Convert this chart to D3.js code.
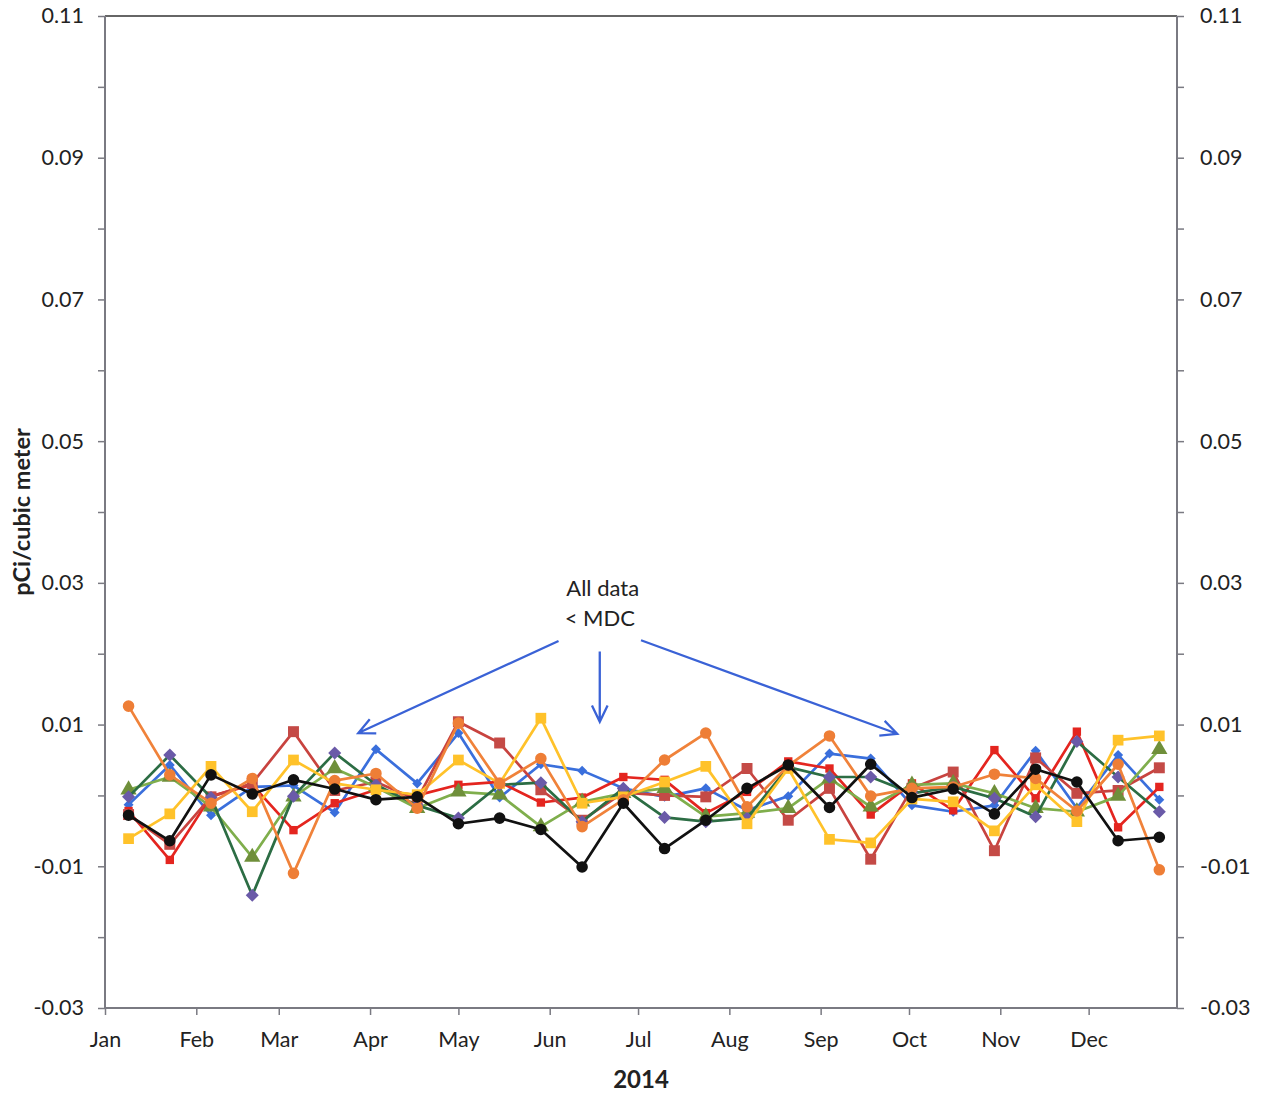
<!DOCTYPE html>
<html>
<head>
<meta charset="utf-8">
<script src="https://cdn.jsdelivr.net/npm/d3@7"></script>
<style>
  body { margin: 0; background: #fff; }
  svg text { font-family: Lato, "Open Sans", sans-serif; fill: #222; }
</style>
</head>
<body>
<script>
// biweekly sample dates, 2014
var sampleDates = ["2014-01-09","2014-01-23","2014-02-06","2014-02-20","2014-03-06","2014-03-20",
  "2014-04-03","2014-04-17","2014-05-01","2014-05-15","2014-05-29","2014-06-12","2014-06-26",
  "2014-07-10","2014-07-24","2014-08-07","2014-08-21","2014-09-04","2014-09-18","2014-10-02",
  "2014-10-16","2014-10-30","2014-11-13","2014-11-27","2014-12-11","2014-12-25"];

// one array per station (pCi/cubic meter)
var blueVals = [-0.0013,0.0043,-0.0028,0.0012,0.0014,-0.0024,0.0065,0.0017,0.0088,-0.0003,0.0044,0.0035,0.0010,
  -0.0002,0.0010,-0.0021,-0.0001,0.0059,0.0052,-0.0014,-0.0023,-0.0014,0.0063,-0.0018,0.0057,-0.0006];
var redVals = [-0.0022,-0.0091,-0.0001,0.0015,-0.0049,-0.0011,0.0008,0.0000,0.0015,0.0019,-0.0010,-0.0003,0.0026,
  0.0022,-0.0025,0.0005,0.0048,0.0038,-0.0027,0.0017,-0.0021,0.0064,-0.0004,0.0090,-0.0045,0.0012];
var darkRedVals = [-0.0027,-0.0069,-0.0002,0.0017,0.0090,0.0007,0.0019,-0.0006,0.0104,0.0074,0.0008,-0.0035,0.0004,
  0.0000,-0.0002,0.0038,-0.0035,0.0010,-0.0090,0.0010,0.0033,-0.0078,0.0053,0.0003,0.0007,0.0039];
var oliveVals = [0.0008,0.0026,-0.0016,-0.0087,-0.0002,0.0038,0.0012,-0.0018,0.0005,0.0001,-0.0044,-0.0009,0.0003,
  0.0010,-0.0030,-0.0025,-0.0018,0.0024,-0.0016,0.0015,0.0017,0.0003,-0.0018,-0.0023,-0.0001,0.0065];
var purpleVals = [-0.0002,0.0057,-0.0003,-0.0141,-0.0001,0.0060,0.0015,-0.0014,-0.0032,0.0015,0.0018,-0.0037,0.0010,
  -0.0031,-0.0037,-0.0032,0.0040,0.0026,0.0026,0.0003,0.0012,-0.0004,-0.0030,0.0076,0.0026,-0.0023];
var yellowVals = [-0.0061,-0.0026,0.0041,-0.0023,0.0050,0.0017,0.0008,0.0001,0.0050,0.0017,0.0109,-0.0011,-0.0002,
  0.0019,0.0041,-0.0040,0.0038,-0.0062,-0.0067,-0.0005,-0.0009,-0.0050,0.0015,-0.0037,0.0078,0.0084];
var orangeVals = [0.0126,0.0029,-0.0011,0.0024,-0.0110,0.0021,0.0031,-0.0018,0.0102,0.0017,0.0052,-0.0044,-0.0006,
  0.0050,0.0088,-0.0016,0.0042,0.0084,-0.0001,0.0010,0.0012,0.0030,0.0024,-0.0022,0.0044,-0.0105];
var blackVals = [-0.0028,-0.0064,0.0029,0.0002,0.0022,0.0009,-0.0006,-0.0002,-0.0040,-0.0032,-0.0048,-0.0101,-0.0011,
  -0.0075,-0.0035,0.0010,0.0043,-0.0017,0.0044,-0.0003,0.0009,-0.0026,0.0037,0.0019,-0.0064,-0.0059];

var monthLabels = ["Jan","Feb","Mar","Apr","May","Jun","Jul","Aug","Sep","Oct","Nov","Dec"];
var yTicks = [-0.03,-0.02,-0.01,0,0.01,0.02,0.03,0.04,0.05,0.06,0.07,0.08,0.09,0.10,0.11];
var yTickLabels = ["-0.03","-0.01","0.01","0.03","0.05","0.07","0.09","0.11"];

var w = 1265, h = 1096;
var svg = d3.select("body").append("svg").attr("width", w).attr("height", h);

var parse = d3.timeParse("%Y-%m-%d");
var x = d3.scaleTime()
  .domain([parse("2014-01-01"), parse("2014-12-31")])
  .range([105, 1177]);
var y = d3.scaleLinear()
  .domain([-0.03, 0.11])
  .range([1008, 16]);

//plain hyphen labels, only every other tick gets one
function yLabel(d){
  var s = d.toFixed(2);
  if (s === "-0.00") s = "0.00";
  return yTickLabels.indexOf(s) >= 0 ? s : "";
}

// top border
svg.append("line")
  .attr("x1", 105).attr("x2", 1177).attr("y1", 16).attr("y2", 16)
  .attr("stroke", "#333").attr("stroke-width", 1.5);

// left axis
var left = svg.append("g").attr("transform", "translate(105,0)")
  .call(d3.axisLeft(y).tickValues(yTicks).tickSize(7).tickPadding(14).tickFormat(yLabel));
// right axis
var right = svg.append("g").attr("transform", "translate(1177,0)")
  .call(d3.axisRight(y).tickValues(yTicks).tickSize(7).tickPadding(16).tickFormat(yLabel));
// bottom axis
var monthDates = monthLabels.map(function(m, i){ return new Date(2014, i, 1); });
var bottom = svg.append("g").attr("transform", "translate(0,1008)")
  .call(d3.axisBottom(x).tickValues(monthDates).tickSize(7).tickPadding(17)
    .tickFormat(function(d, i){ return monthLabels[i]; }));

[left, right, bottom].forEach(function(g){
  g.select(".domain").attr("stroke", "#7a7a82").attr("stroke-width", 2);
  g.selectAll(".tick line").attr("stroke", "#7a7a82").attr("stroke-width", 1.5);
  g.selectAll(".tick text").style("font-size", "21.5px").style("font-family", "Lato, 'Open Sans', sans-serif").attr("fill", "#222");
});
left.select(".domain").attr("d", "M0,1008V16");
right.select(".domain").attr("d", "M0,1008V16");
bottom.select(".domain").attr("d", "M105,0H1177");

// axis titles
svg.append("text")
  .attr("transform", "translate(30," + ((16 + 1008) / 2) + ") rotate(-90)")
  .attr("text-anchor", "middle")
  .style("font-size", "23.5px").style("font-weight", "bold")
  .text("pCi/cubic meter");
svg.append("text")
  .attr("x", 641).attr("y", 1088)
  .attr("text-anchor", "middle")
  .style("font-size", "24px").style("font-weight", "bold")
  .text("2014");

// series definitions (rot = 45 turns a square into an Excel style diamond)
var series = [
  { vals: blueVals,    line: "#3a6fdc", fill: "#3a6fdc", sym: d3.symbolSquare,   size: 50,  rot: 45 },
  { vals: redVals,     line: "#e4251f", fill: "#e4251f", sym: d3.symbolSquare,   size: 70,  rot: 0 },
  { vals: darkRedVals, line: "#c8433f", fill: "#c44a46", sym: d3.symbolSquare,   size: 120, rot: 0 },
  { vals: oliveVals,   line: "#7fae4c", fill: "#6f8f3a", sym: d3.symbolTriangle, size: 115, rot: 0 },
  { vals: purpleVals,  line: "#2c6d44", fill: "#6a5aa8", sym: d3.symbolSquare,   size: 85,  rot: 45 },
  { vals: yellowVals,  line: "#ffc22a", fill: "#ffc22a", sym: d3.symbolSquare,   size: 115, rot: 0 },
  { vals: orangeVals,  line: "#f0823a", fill: "#ee7e36", sym: d3.symbolCircle,   size: 105, rot: 0 },
  { vals: blackVals,   line: "#111111", fill: "#111111", sym: d3.symbolCircle,   size: 105, rot: 0 }
];

var dates = sampleDates.map(parse);
var lineGen = d3.line()
  .x(function(d){ return x(d.date); })
  .y(function(d){ return y(d.v); });

series.forEach(function(s){
  var pts = s.vals.map(function(v, i){ return { date: dates[i], v: v }; });
  var g = svg.append("g");
  g.append("path")
    .datum(pts)
    .attr("d", lineGen)
    .attr("fill", "none")
    .attr("stroke", s.line)
    .attr("stroke-width", 2.7)
    .attr("stroke-linejoin", "round");
  g.selectAll("path.mk")
    .data(pts)
    .enter()
    .append("path")
    .attr("class", "mk")
    .attr("d", d3.symbol().type(s.sym).size(s.size))
    .attr("transform", function(d){
      return "translate(" + x(d.date) + "," + y(d.v) + ") rotate(" + s.rot + ")";
    })
    .attr("fill", s.fill);
});

// annotation
svg.append("text")
  .attr("x", x(parse("2014-06-19"))).attr("y", y(0.0281))
  .attr("text-anchor", "middle").style("font-size", "22px").attr("fill", "#333")
  .text("All data");
svg.append("text")
  .attr("x", x(parse("2014-06-18"))).attr("y", y(0.0239))
  .attr("text-anchor", "middle").style("font-size", "22px").attr("fill", "#333")
  .text("< MDC");

var arrows = [
  { from: ["2014-06-04", 0.0218], to: ["2014-03-28", 0.0088] },
  { from: ["2014-06-18", 0.0203], to: ["2014-06-18", 0.0104] },
  { from: ["2014-07-02", 0.0219], to: ["2014-09-27", 0.0087] }
];
arrows.forEach(function(a){
  var x1 = x(parse(a.from[0])), y1 = y(a.from[1]);
  var x2 = x(parse(a.to[0])), y2 = y(a.to[1]);
  var ang = Math.atan2(y2 - y1, x2 - x1);
  var L = 18, spread = Math.PI / 7;
  var p = d3.path();
  p.moveTo(x1, y1); p.lineTo(x2, y2);
  p.moveTo(x2 - L * Math.cos(ang - spread), y2 - L * Math.sin(ang - spread));
  p.lineTo(x2, y2);
  p.lineTo(x2 - L * Math.cos(ang + spread), y2 - L * Math.sin(ang + spread));
  svg.append("path")
    .attr("d", p.toString())
    .attr("fill", "none")
    .attr("stroke", "#3a62d6")
    .attr("stroke-width", 2.3);
});
</script>
</body>
</html>
